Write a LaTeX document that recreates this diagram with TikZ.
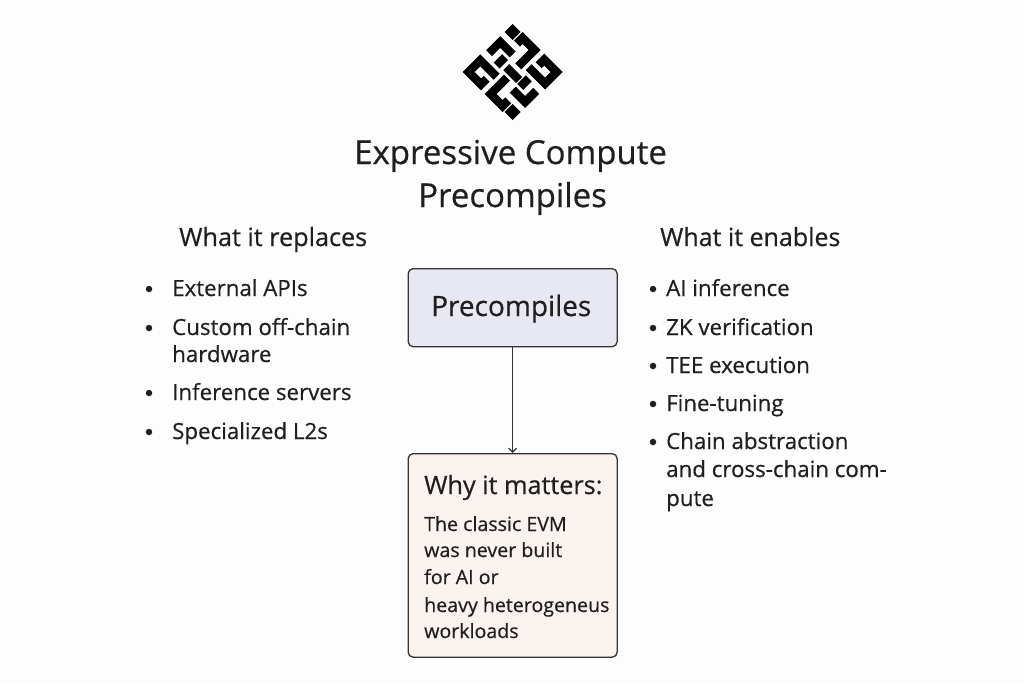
\documentclass[tikz,border=0pt]{standalone}
\usepackage{fontspec}
\setmainfont{Open Sans}[RawFeature={embolden=0.5}]
\usetikzlibrary{arrows.meta}
\definecolor{pagebg}{HTML}{FDFDFD}
\definecolor{ink}{HTML}{1F1F1F}
\definecolor{boxline}{HTML}{333333}
\definecolor{boxblue}{HTML}{E8E8F3}
\definecolor{boxrose}{HTML}{FBF3EF}
\tikzset{
  x=1pt,y=-1pt,
  txt/.style={inner sep=0pt,anchor=base west,text=ink,font=\fontsize{#1}{#1}\selectfont},
  txt/.default=20,
  box/.style={draw=boxline,line width=1.3pt,rounded corners=5pt,inner sep=0pt,minimum width=209pt,anchor=north west},
  dot/.style={circle,fill=ink,inner sep=0pt,minimum size=6.5pt},
  knot/.style={line width=8.4pt,line cap=butt,line join=miter,draw=black},
}
\begin{document}
\begin{tikzpicture}
\useasboundingbox (0,0) rectangle (1024,683);
\fill[pagebg] (0,0) rectangle (1024,683);
% logo: i runs up-right, j runs down-right
\begin{scope}[shift={(512.67,72)},x={(8pt,8pt)},y={(8pt,-8pt)}]
\fill[black] (2,-3) -- (3,-3) -- (3,-2) -- (2,-2) -- cycle;
\fill[black] (-3,2) -- (-2,2) -- (-2,3) -- (-3,3) -- cycle;
\draw[knot] (-0.3,-2.65) -- (1.1,-2.65) -- (1.1,-1.1);
\draw[knot] (0.3,2.65) -- (-1.1,2.65) -- (-1.1,1.1);
\draw[knot] (-0.6,-1.4) -- (0.45,-1.4);
\draw[knot] (0.6,1.4) -- (-0.45,1.4);
\draw[knot] (2.05,-1.5) -- (2.75,-1.5) -- (2.75,0) -- (0.7,0);
\draw[knot] (-2.05,1.5) -- (-2.75,1.5) -- (-2.75,0) -- (-0.7,0);
\draw[knot] (-1.3,-0.7) -- (-1.3,-2.75) -- (-2.75,-2.75) -- (-2.75,-1.2) -- (-2.05,-1.2);
\draw[knot] (1.3,0.7) -- (1.3,2.75) -- (2.75,2.75) -- (2.75,1.2) -- (2.05,1.2);
\draw[knot] (-0.1,-0.7) -- (-0.1,0.9);
\end{scope}
% title
\node[txt=33] (t1) at (354,164) {Expressive Compute};
\node[txt=33] (t2) at (418,207) {Precompiles};
% headings
\node[txt=25.2] (h1) at (179,246) {What it replaces};
\node[txt=25] (h2) at (660,246) {What it enables};
% boxes
\node[box,fill=boxblue,minimum height=78pt] (pc) at (407.5,268) {};
\node[box,fill=boxrose,minimum height=203.5pt] (why) at (407.5,453) {};
\draw[boxline,line width=1.2pt,-{Straight Barb[length=4pt,width=8pt]}] (pc.south) -- (why.north);
\node[txt=28] (pct) at (431,316) {Precompiles};
\node[txt=25.2] (w0) at (424,494) {Why it matters:};
\node[txt=19.6] (w1) at (424,531) {The classic EVM};
\node[txt=19.6] (w2) at (424,557) {was never built};
\node[txt=19.6] (w3) at (424,584) {for AI or};
\node[txt=19.6] (w4) at (424,612) {heavy heterogeneus};
\node[txt=19.6] (w5) at (424,638) {workloads};
% left list
\node[dot] (b1) at (149,289) {};
\node[dot] (b2) at (149,328) {};
\node[dot] (b3) at (149,393) {};
\node[dot] (b4) at (149,432) {};
\node[txt=22.3] (l1) at (172,296) {External APIs};
\node[txt=22.3] (l2) at (172,335) {Custom off-chain};
\node[txt=22.3] (l3) at (172,362) {hardware};
\node[txt=22.3] (l4) at (172,400) {Inference servers};
\node[txt=22.3] (l5) at (172,439) {Specialized L2s};
% right list
\node[dot] (c1) at (653,289) {};
\node[dot] (c2) at (653,328) {};
\node[dot] (c3) at (653,366) {};
\node[dot] (c4) at (653,404) {};
\node[dot] (c5) at (653,442) {};
\node[txt=22.3] (r1) at (666,296) {AI inference};
\node[txt=22.3] (r2) at (666,335) {ZK verification};
\node[txt=22.3] (r3) at (666,373) {TEE execution};
\node[txt=22.3] (r4) at (666,411) {Fine-tuning};
\node[txt=22.3] (r5) at (666,449) {Chain abstraction};
\node[txt=22.3] (r6) at (666,477) {and cross-chain com-};
\node[txt=22.3] (r7) at (666,506) {pute};
\end{tikzpicture}
\end{document}
